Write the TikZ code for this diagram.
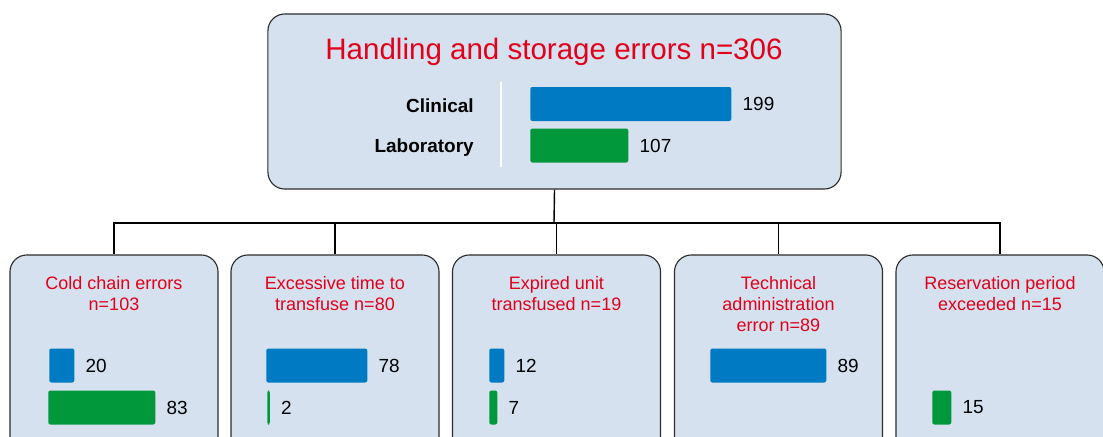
\documentclass[tikz,border=0pt]{standalone}
\usepackage{fontspec}
\setmainfont{Liberation Sans}
\usepackage{tikz}
\usetikzlibrary{positioning}
\definecolor{panelblue}{RGB}{213,225,238}
\definecolor{framegrey}{RGB}{45,45,45}
\definecolor{titlered}{RGB}{226,0,26}
\definecolor{clinblue}{RGB}{0,123,195}
\definecolor{labgreen}{RGB}{0,152,58}
\tikzset{
  panel/.style={rectangle, rounded corners=12pt, draw=framegrey, fill=panelblue, line width=0.8pt, inner sep=0pt},
  head/.style={font=\fontsize{21}{25}\selectfont, text=titlered, inner sep=0pt},
  subhead/.style={font=\fontsize{12.8}{15}\selectfont, text=titlered, align=center, inner sep=0pt},
  rowlbl/.style={font=\fontsize{13.5}{16}\selectfont\bfseries, inner sep=0pt},
  bar/.style 2 args={rectangle, rounded corners=1.5pt, fill=#1, minimum width=#2*0.025cm, minimum height=0.85cm, anchor=west, inner sep=0pt},
  num/.style={font=\fontsize{13.5}{16}\selectfont, inner sep=0pt},
  link/.style={line width=1pt, draw=black},
}
\begin{document}
\begin{tikzpicture}[x=0.025cm,y=-0.025cm]
  \useasboundingbox (0,0) rectangle (1103,436);
  \clip (0,0) rectangle (1103,436);
  % summary panel
  \node[panel,minimum width=14.325cm,minimum height=4.375cm] (top) at (554.5,101.5) {};
  \node[head,anchor=base] (top-head) at (554,59) {Handling and storage errors n=306};
  \draw[white,line width=2pt] (501,82) -- (501,167);
  \node[rowlbl,anchor=base east] (clin) at (474,112) {Clinical};
  \node[rowlbl,anchor=base east] (lab) at (474,152) {Laboratory};
  % category panels
  \foreach \i/\x/\txt in {1/114/{Cold chain errors\\n=103},
                          2/335/{Excessive time to\\transfuse n=80},
                          3/556.5/{Expired unit\\transfused n=19},
                          4/778.5/{Technical\\administration\\error n=89},
                          5/1000/{Reservation period\\exceeded n=15}}{
    \node[panel,minimum width=5.2cm,minimum height=5.375cm] (b\i) at (\x,362.5) {};
    \node[subhead,anchor=north] (b\i-head) at (\x,276) {\txt};
  }
  % tree links
  \coordinate (hub) at (554,223);
  \draw[link] (top.south) -- (hub);
  \foreach \i in {1,...,5}{\draw[link] (hub) -| (b\i.north);}
  % bars: name/colour/x/y/width/value
  \foreach \nm/\col/\x/\y/\w/\v in {tc/clinblue/530/104/201/199,
                                   tl/labgreen/530/145.5/98/107,
                                   c1/clinblue/49/365.5/25/20,
                                   l1/labgreen/48/407.5/107/83,
                                   c2/clinblue/266/365.5/101/78,
                                   l2/labgreen/267/407.5/2.5/2,
                                   c3/clinblue/489/365.5/15/12,
                                   l3/labgreen/489/407.5/8/7,
                                   c4/clinblue/710/365.5/116/89,
                                   l5/labgreen/932/407.5/19/15}{
    \node[bar={\col}{\w}] (\nm) at (\x,\y) {};
    \node[num,right=0.27cm of \nm] (\nm-v) {\v};
  }
\end{tikzpicture}
\end{document}
